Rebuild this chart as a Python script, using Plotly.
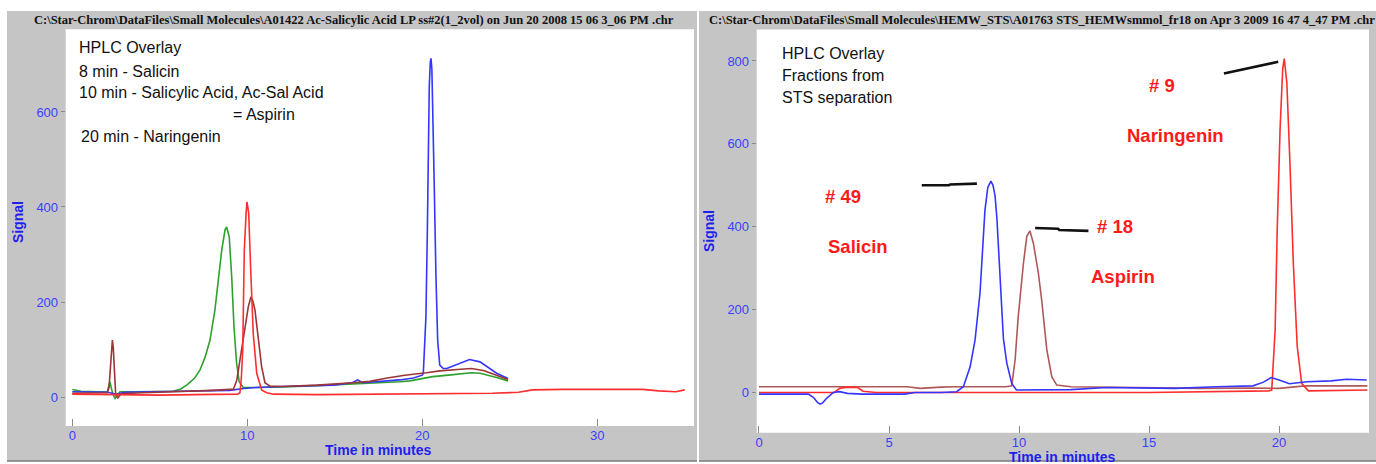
import plotly.graph_objects as go

# ---------------- Left run: standards overlay ----------------
LEFT_TITLE = ("C:\\Star-Chrom\\DataFiles\\Small Molecules\\A01422 Ac-Salicylic Acid LP "
              "ss#2(1_2vol) on Jun 20 2008 15 06 3_06 PM .chr")
LEFT_NOTES = ["HPLC Overlay", "8 min - Salicin", "10 min - Salicylic Acid, Ac-Sal Acid",
              "= Aspirin", "20 min - Naringenin"]
LEFT_XTICKS = [0, 10, 20, 30]
LEFT_YTICKS = [0, 200, 400, 600]

left_green_t = [0, 0.5, 1.5, 2.0, 2.15, 2.3, 2.44, 2.6, 2.72, 3.5, 4.5, 5.3, 5.77, 6.2, 6.54, 7.0,
                7.3, 7.6, 7.87, 8.15, 8.34, 8.54, 8.73, 8.82, 8.97, 9.11, 9.24, 9.39, 9.54, 9.77,
                10.5, 12, 14, 16, 17.5, 18.7, 19.3, 20.0, 20.6, 21.5, 22.3, 22.8, 23.3, 23.8,
                24.25, 24.9]
left_green_s = [16, 12, 11, 11, 32, 8, -3, 6, 11, 11, 11, 11, 12, 17, 25, 40,
                57, 85, 120, 183, 239, 309, 352, 358, 337, 253, 148, 71, 32, 20,
                20, 21, 24, 27, 30, 32, 34, 38, 43, 46, 49, 51, 50, 46,
                41, 34]

left_brown_t = [0, 1.0, 2.0, 2.1, 2.18, 2.24, 2.29, 2.34, 2.4, 2.48, 2.6, 2.8, 4, 6, 8, 9.0,
                9.2, 9.4, 9.58, 9.72, 9.87, 10.06, 10.21, 10.32, 10.44, 10.63, 10.82, 11.01,
                11.3, 12, 14, 16, 17, 18, 19, 20.25, 21, 22, 22.8, 23.5, 24.2, 24.9]
left_brown_s = [8, 8, 9, 20, 70, 110, 120, 105, 55, 5, -2, 7, 9, 11, 14, 16,
                16, 35, 78, 110, 148, 190, 211, 202, 183, 120, 64, 30,
                23, 22, 25, 30, 33, 40, 46, 51, 55, 58, 60, 56, 47, 37]

left_blue_t = [0, 1.0, 2.0, 2.3, 2.5, 3.0, 5.0, 7.0, 9.0, 9.8, 10.5, 12, 14.9, 16.0, 16.3, 16.6,
               17.5, 18.7, 19.5, 20.0, 20.06, 20.14, 20.21, 20.29, 20.34, 20.4, 20.46, 20.5,
               20.55, 20.6, 20.69, 20.78, 20.88, 21.0, 21.2, 21.4, 22.0, 22.7, 23.3, 23.8,
               24.25, 24.9]
left_blue_s = [11, 10, 10, 8, 6, 10, 11, 12, 14, 18, 20, 22, 25, 30, 36, 30,
               32, 36, 40, 46, 50, 100, 169, 345, 541, 653, 705, 713,
               690, 611, 436, 260, 120, 67, 60, 60, 68, 79, 74, 62,
               50, 39]

left_red_t = [0, 2, 3, 5, 7, 9, 9.45, 9.58, 9.66, 9.74, 9.83, 9.93, 9.98, 10.03, 10.08, 10.19,
              10.34, 10.54, 10.82, 11.11, 11.5, 14, 18, 20, 22, 24, 25.5, 26.3, 28, 30.1, 32.6,
              33.5, 34.5, 35]
left_red_s = [6, 5, 6, 4, 5, 5, 6, 9, 40, 99, 309, 385, 411, 400, 387, 274,
              134, 50, 15, 9, 6, 5, 6, 6, 7, 8, 10, 15, 16, 16, 16,
              13, 11, 15]

# ---------------- Right run: STS fractions ----------------
RIGHT_TITLE = ("C:\\Star-Chrom\\DataFiles\\Small Molecules\\HEMW_STS\\A01763 STS_HEMWsmmol_fr18 "
               "on Apr 3 2009 16 47 4_47 PM .chr")
RIGHT_NOTES = ["HPLC Overlay", "Fractions from", "STS separation"]
RIGHT_XTICKS = [0, 5, 10, 15, 20]
RIGHT_YTICKS = [0, 200, 400, 600, 800]

right_blue_t = [0, 1.0, 1.9, 2.1, 2.25, 2.35, 2.45, 2.6, 2.86, 3.1, 3.4, 4.0, 5.6, 6.0, 7.0,
                7.6, 7.86, 8.12, 8.31, 8.5, 8.56, 8.69, 8.8, 8.92, 9.0, 9.08, 9.15, 9.22, 9.3,
                9.4, 9.53, 9.72, 9.9, 11, 12, 13.37, 15.5, 16, 17.6, 19.0, 19.4, 19.7, 20.0,
                20.4, 21.07, 22.0, 22.6, 23.37]
right_blue_s = [-4, -4, -4, -12, -24, -28, -25, -14, 0, 2, -2, -4, -4, 0, 0,
                2, 14, 62, 127, 240, 312, 440, 495, 510, 500, 474, 420, 340, 220,
                130, 71, 22, 6, 6, 7, 12, 10, 10, 14, 16, 25, 36, 30,
                21, 26, 28, 32, 30]

right_brown_t = [0, 3, 5.7, 6.2, 6.6, 7.0, 7.5, 9.5, 9.72, 9.85, 9.97, 10.1, 10.17, 10.3, 10.42,
                 10.55, 10.68, 10.74, 10.87, 11.07, 11.26, 11.45, 12, 15, 17, 19, 20, 21, 22, 23.4]
right_brown_s = [14, 14, 14, 10, 12, 13, 14, 14, 16, 79, 183, 280, 312, 377, 390,
                 361, 312, 290, 224, 103, 38, 18, 14, 12, 10, 11, 10, 16, 16, 16]

right_red_t = [0, 2.9, 3.1, 3.4, 3.8, 4.0, 4.5, 10, 15, 19.6, 19.72, 19.85, 19.93, 20.04, 20.14,
               20.2, 20.3, 20.42, 20.55, 20.7, 20.87, 21.13, 23.4]
right_red_s = [0, 0, 10, 13, 12, 3, 0, 0, 0, 4, 6, 151, 393, 635, 780,
               806, 748, 554, 312, 111, 22, 4, 6]

# fraction labels and their pointer strokes
RIGHT_LABELS = ["# 49", "Salicin", "# 18", "Aspirin", "# 9", "Naringenin"]
label_t = [3.23, 3.81, 13.69, 14.0, 15.5, 16.0]
label_s = [473, 352, 400, 280, 740, 620]
pointer_t = [[6.26, 7.3, 7.35, 8.38], [10.62, 11.5, 11.55, 12.67], [17.88, 19.97]]
pointer_s = [[500, 500, 502, 504], [397, 395, 392, 390], [770, 798]]

# ---------------- Styling ----------------
W, H = 1376, 464
PANEL_BG = "#c5c5c5"
TICK_BLUE = "#3d3dff"
TITLE_BLUE = "#1f1ff0"
BLUE, RED, GREEN = "#3535ff", "#ff2d2d", "#2ea02e"
BROWN_L, BROWN_R = "#9c3535", "#b05858"

# plot rectangles in pixels (x0, x1, y_top, y_bottom)
LEFT_BOX = (65.7, 694.0, 29.3, 426.0)
RIGHT_BOX = (756.7, 1369.0, 29.5, 432.7)


def dom_x(box):
    return [box[0] / W, box[1] / W]


def dom_y(box):
    return [1 - box[3] / H, 1 - box[2] / H]


fig = go.Figure()

def add_line(t, s, color, xa, ya, width=1.6):
    fig.add_trace(go.Scatter(x=t, y=s, mode="lines", xaxis=xa, yaxis=ya,
                             line=dict(color=color, width=width), hoverinfo="skip",
                             showlegend=False))

add_line(left_green_t, left_green_s, GREEN, "x", "y")
add_line(left_blue_t, left_blue_s, BLUE, "x", "y")
add_line(left_brown_t, left_brown_s, BROWN_L, "x", "y")
add_line(left_red_t, left_red_s, RED, "x", "y")

add_line(right_brown_t, right_brown_s, BROWN_R, "x2", "y2")
add_line(right_red_t, right_red_s, RED, "x2", "y2")
add_line(right_blue_t, right_blue_s, BLUE, "x2", "y2")
for pt, ps in zip(pointer_t, pointer_s):
    add_line(pt, ps, "#111111", "x2", "y2", width=2.6)

axis_common = dict(showgrid=False, zeroline=False, showline=False,
                   tickfont=dict(family="Liberation Sans, Arial", size=13, color=TICK_BLUE),
                   tickcolor="#8a8a8a", tickwidth=1, tickmode="array")

fig.update_layout(
    width=W, height=H, margin=dict(l=0, r=0, t=0, b=0),
    paper_bgcolor="white", plot_bgcolor="white", showlegend=False,
    xaxis=dict(domain=dom_x(LEFT_BOX), anchor="y", range=[-0.377, 35.53],
               tickvals=LEFT_XTICKS, ticks="inside", ticklen=7, **axis_common),
    yaxis=dict(domain=dom_y(LEFT_BOX), anchor="x", range=[-61, 774],
               tickvals=LEFT_YTICKS, ticks="outside", ticklen=4, **axis_common),
    xaxis2=dict(domain=dom_x(RIGHT_BOX), anchor="y2", range=[-0.088, 23.46],
                tickvals=RIGHT_XTICKS, ticks="inside", ticklen=7, **axis_common),
    yaxis2=dict(domain=dom_y(RIGHT_BOX), anchor="x2", range=[-97, 876],
                tickvals=RIGHT_YTICKS, ticks="outside", ticklen=4, **axis_common),
)

# grey instrument frames behind each chart
shapes = []
for x0, x1 in [(7, 697), (699, 1376)]:
    shapes.append(dict(type="rect", xref="paper", yref="paper", layer="below",
                       x0=x0 / W, x1=x1 / W, y0=1 - 461 / H, y1=1 - 11 / H,
                       fillcolor=PANEL_BG, line=dict(width=0)))
    shapes.append(dict(type="line", xref="paper", yref="paper", layer="below",
                       x0=x0 / W, x1=x1 / W, y0=1 - 461 / H, y1=1 - 461 / H,
                       line=dict(color="#7a7a7a", width=1.5)))
for box in (LEFT_BOX, RIGHT_BOX):
    shapes.append(dict(type="rect", xref="paper", yref="paper", layer="below",
                       x0=box[0] / W, x1=box[1] / W, y0=1 - box[3] / H, y1=1 - box[2] / H,
                       fillcolor="white", line=dict(width=0)))
fig.update_layout(shapes=shapes)

ann = []

def px_text(text, x, y, size, color, family="Liberation Sans, Arial", bold=False,
            xanchor="left", angle=0):
    t = f"<b>{text}</b>" if bold else text
    ann.append(dict(text=t, x=x / W, y=1 - y / H, xref="paper", yref="paper",
                    xanchor=xanchor, yanchor="middle", showarrow=False, textangle=angle,
                    font=dict(family=family, size=size, color=color)))

# file-path headers
px_text(LEFT_TITLE, 354, 19.5, 12.5, "#111111", family="Liberation Sans Narrow, Arial Narrow",
        bold=True, xanchor="center")
px_text(RIGHT_TITLE, 1042, 19.5, 12.5, "#111111", family="Liberation Sans Narrow, Arial Narrow",
        bold=True, xanchor="center")

# axis titles
for (cx, cy) in [(18, 222), (709, 231)]:
    px_text("Signal", cx, cy, 14, TITLE_BLUE, bold=True, xanchor="center", angle=-90)
px_text("Time in minutes", 378, 450, 14, TITLE_BLUE, bold=True, xanchor="center")
px_text("Time in minutes", 1062, 456.5, 14, TITLE_BLUE, bold=True, xanchor="center")

# note blocks
left_note_pos = [(77, 48), (77, 72), (77, 92.5), (231, 114), (78.5, 136)]
for txt, (x, y) in zip(LEFT_NOTES, left_note_pos):
    px_text(txt, x, y, 16, "#111111")
right_note_pos = [(780, 53.5), (780, 75.5), (780, 97.5)]
for txt, (x, y) in zip(RIGHT_NOTES, right_note_pos):
    px_text(txt, x, y, 16, "#111111")

# fraction labels
for txt, t, s in zip(RIGHT_LABELS, label_t, label_s):
    ann.append(dict(text=f"<b>{txt}</b>", x=t, y=s, xref="x2", yref="y2", showarrow=False,
                    xanchor="center", yanchor="middle",
                    font=dict(family="Liberation Sans, Arial", size=18.5, color="#ff1a1a")))

fig.update_layout(annotations=ann)
fig.write_html("out.html")
